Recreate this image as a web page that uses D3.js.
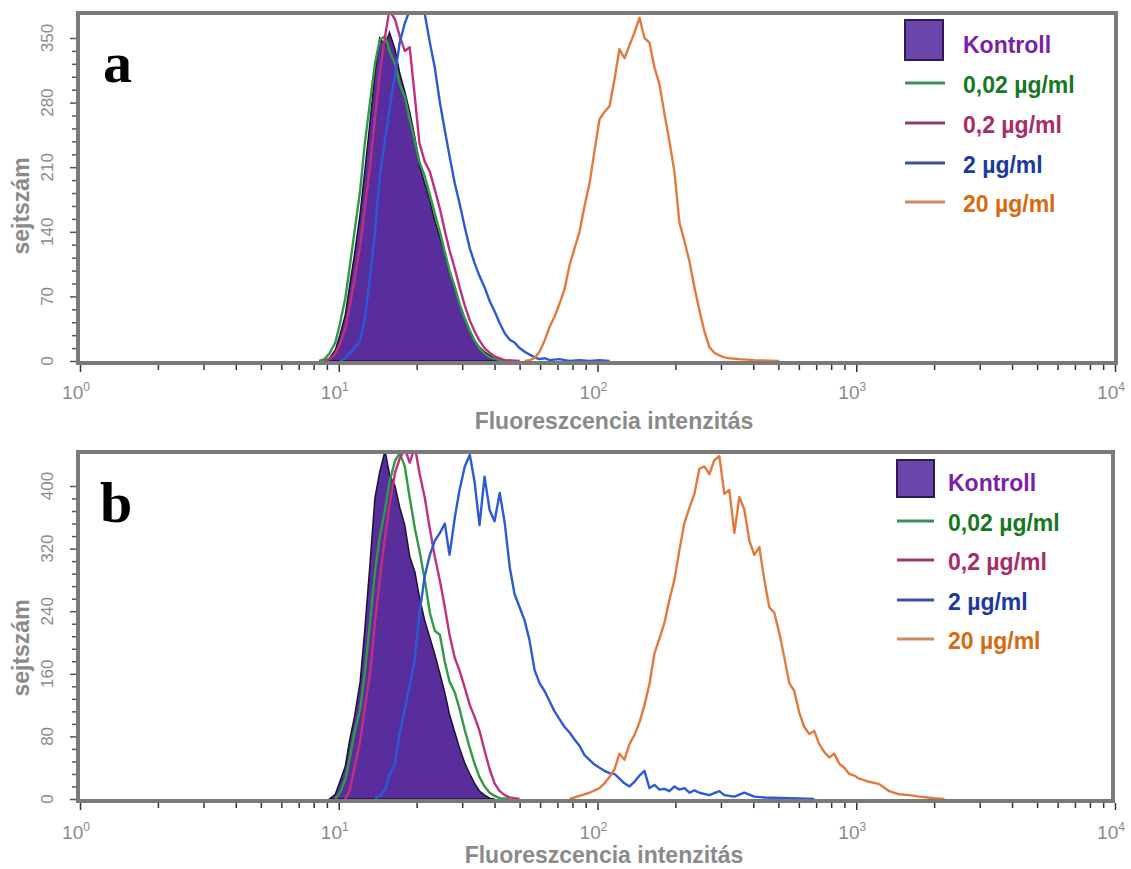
<!DOCTYPE html>
<html>
<head>
<meta charset="utf-8">
<script src="https://cdn.jsdelivr.net/npm/d3@7"></script>
<style>
  body { margin: 0; background: #fff; }
  svg { display: block; }
</style>
</head>
<body>
<svg id="chart" width="1131" height="869"></svg>
<script>
// series labels and colours
const seriesNames = ["Kontroll", "0,02 µg/ml", "0,2 µg/ml", "2 µg/ml", "20 µg/ml"];
const lineColors = ["#5a2d9d", "#2f9c45", "#c0307e", "#2b5ad6", "#e37a3c"];
const legendTextColors = ["#7b1ea8", "#16781f", "#a62d68", "#1b39a0", "#d8690f"];
const legendLineColors = ["#5a2d9d", "#3e8e5c", "#983a70", "#3a4fa8", "#cc8a62"];

const decades = [1, 10, 100, 1000, 10000];
const yTicksA = [0, 70, 140, 210, 280, 350];
const yTicksB = [0, 80, 160, 240, 320, 400];

// panel a : [fluorescence intensity, cell count]
const kontrollA = [[8.8,0],[9.2,3],[9.7,12],[10.1,28],[10.6,50],[11.0,80],[11.5,115],[12.1,160],[12.6,205],[13.2,258],[13.8,312],[14.4,350],[15.1,342],[15.7,356],[16.5,338],[17.2,312],[18.0,292],[18.8,270],[19.7,242],[20.5,212],[21.5,192],[22.5,174],[23.5,152],[24.6,134],[25.7,116],[26.8,96],[28.1,79],[29.3,62],[30.7,46],[32.1,33],[33.5,22],[35.0,15],[36.6,10],[38.3,6],[40.0,3],[41.9,1],[45.8,0]];
const conc002A = [[8.4,0],[8.8,2],[9.2,8],[9.7,20],[10.1,40],[10.6,68],[11.0,100],[11.5,140],[12.1,185],[12.6,235],[13.2,280],[13.8,322],[14.4,348],[15.1,352],[15.7,336],[16.5,322],[17.2,300],[18.0,286],[18.8,262],[19.7,238],[20.5,216],[21.5,200],[22.5,180],[23.5,160],[24.6,140],[25.7,118],[26.8,98],[28.1,80],[29.3,62],[30.7,46],[32.1,33],[33.5,22],[35.0,14],[36.6,8],[38.3,4],[41.9,1],[45.8,0]];
const conc02A = [[8.8,0],[9.2,2],[9.7,8],[10.1,18],[10.6,35],[11.0,58],[11.5,88],[12.1,125],[12.6,165],[13.2,210],[13.8,262],[14.4,312],[15.1,352],[15.7,380],[16.5,370],[17.2,352],[18.0,336],[18.8,340],[19.7,285],[20.5,236],[21.5,216],[22.5,205],[23.5,186],[24.6,165],[25.7,141],[26.8,120],[28.1,100],[29.3,80],[30.7,60],[32.1,44],[33.5,32],[35.0,22],[36.6,14],[38.3,9],[40.0,5],[43.8,1],[50.0,0]];
const conc2A = [[10.1,0],[10.6,3],[11.0,8],[11.5,14],[12.1,22],[12.6,45],[13.2,90],[13.8,140],[14.4,200],[15.1,240],[15.7,272],[16.5,310],[17.2,345],[18.0,366],[18.8,380],[19.7,378],[20.5,382],[21.5,376],[22.5,345],[23.5,318],[24.6,280],[25.7,250],[26.8,222],[28.1,192],[29.3,171],[30.7,145],[32.1,122],[33.5,106],[35.0,92],[36.6,80],[38.3,65],[40.0,54],[41.9,41],[43.8,30],[45.8,23],[47.8,20],[50.0,14],[52.3,10],[54.6,7],[57.1,4],[59.7,2],[62.4,3],[65.3,1],[71.3,2],[78.0,0],[85.2,1],[93.1,0],[101.8,1],[111.3,0]];
const conc20A = [[52.3,0],[54.6,1],[57.1,3],[59.7,10],[62.4,22],[65.3,37],[68.2,48],[71.3,62],[74.6,78],[78.0,104],[81.5,122],[85.2,140],[89.1,168],[93.1,192],[97.4,228],[101.8,262],[106.4,270],[111.3,276],[116.3,305],[121.6,338],[127.1,328],[132.9,342],[139.0,356],[145.3,372],[151.9,350],[158.8,345],[166.0,318],[173.5,300],[181.4,268],[189.7,238],[198.3,205],[207.3,150],[216.7,130],[226.6,108],[236.9,80],[247.6,55],[258.9,32],[270.6,15],[282.9,9],[295.8,6],[309.2,4],[323.3,3],[353.3,2],[403.7,1],[504.2,0]];

// panel b
const kontrollB = [[9.2,0],[9.7,6],[10.1,22],[10.6,42],[11.0,74],[11.5,105],[12.1,150],[12.6,215],[13.2,300],[13.8,385],[14.4,418],[15.1,445],[15.7,415],[16.5,400],[17.2,373],[18.0,350],[18.8,310],[19.7,290],[20.5,258],[21.5,228],[22.5,206],[23.5,185],[24.6,160],[25.7,136],[26.8,108],[28.1,85],[29.3,65],[30.7,46],[32.1,32],[33.5,20],[35.0,10],[36.6,5],[38.3,1],[40.0,0]];
const conc002B = [[9.7,0],[10.1,8],[10.6,25],[11.0,50],[11.5,85],[12.1,115],[12.6,160],[13.2,225],[13.8,290],[14.4,335],[15.1,370],[15.7,405],[16.5,432],[17.2,442],[18.0,425],[18.8,385],[19.7,345],[20.5,318],[21.5,280],[22.5,238],[23.5,215],[24.6,210],[25.7,175],[26.8,150],[28.1,136],[29.3,115],[30.7,88],[32.1,65],[33.5,45],[35.0,28],[36.6,16],[38.3,8],[40.0,4],[41.9,1],[45.8,0]];
const conc02B = [[10.6,0],[11.0,10],[11.5,40],[12.1,74],[12.6,115],[13.2,160],[13.8,225],[14.4,280],[15.1,335],[15.7,375],[16.5,417],[17.2,435],[18.0,448],[18.8,430],[19.7,450],[20.5,417],[21.5,385],[22.5,345],[23.5,310],[24.6,279],[25.7,245],[26.8,210],[28.1,180],[29.3,164],[30.7,142],[32.1,120],[33.5,105],[35.0,87],[36.6,62],[38.3,38],[40.0,20],[41.9,10],[43.8,5],[45.8,2],[50.0,0]];
const conc2B = [[13.8,0],[14.4,4],[15.1,12],[15.7,30],[16.5,45],[17.2,85],[18.0,115],[18.8,145],[19.7,180],[20.5,237],[21.5,285],[22.5,312],[23.5,330],[24.6,340],[25.7,352],[26.8,312],[28.1,360],[29.3,395],[30.7,425],[32.1,440],[33.5,405],[35.0,350],[36.6,412],[38.3,369],[40.0,355],[41.9,391],[43.8,353],[45.8,296],[47.8,262],[50.0,245],[52.3,228],[54.6,203],[57.1,165],[59.7,148],[62.4,138],[65.3,125],[68.2,112],[71.3,102],[74.6,92],[78.0,85],[81.5,76],[85.2,68],[89.1,56],[93.1,50],[97.4,44],[101.8,40],[106.4,36],[111.3,33],[116.3,32],[121.6,26],[127.1,20],[132.9,16],[139.0,22],[145.3,30],[151.9,36],[158.8,14],[166.0,18],[173.5,12],[181.4,13],[189.7,10],[198.3,16],[207.3,12],[216.7,14],[226.6,8],[236.9,11],[247.6,8],[270.6,5],[295.8,10],[309.2,5],[338.0,3],[369.4,8],[403.7,3],[441.3,2],[551.1,1],[688.3,0]];
const conc20B = [[78.0,0],[85.2,4],[93.1,8],[101.8,14],[106.4,20],[111.3,28],[116.3,38],[121.6,58],[127.1,50],[132.9,70],[139.0,82],[145.3,98],[151.9,120],[158.8,147],[166.0,186],[173.5,205],[181.4,225],[189.7,255],[198.3,280],[207.3,318],[216.7,353],[226.6,372],[236.9,390],[247.6,422],[258.9,425],[270.6,415],[282.9,433],[295.8,438],[309.2,390],[323.3,395],[338.0,340],[353.3,386],[369.4,370],[386.2,330],[403.7,312],[422.1,322],[441.3,280],[461.3,245],[482.3,238],[504.2,212],[527.2,181],[551.1,148],[576.2,138],[602.4,110],[629.8,92],[658.4,83],[688.3,87],[719.6,70],[752.3,60],[786.6,53],[822.3,58],[859.9,45],[898.9,40],[939.7,32],[982.4,30],[1027,26],[1123,22],[1227,19],[1341,10],[1466,6],[1602,5],[1751,3],[2001,1],[2190,0]];

const svg = d3.select("#chart");
const grey = "#8a8a8a";
const frameColor = "#7a7a7a";
const sans = "Liberation Sans, Arial, sans-serif";

const panels = [
  {
    id: "a", letter: "a", series: [kontrollA, conc002A, conc02A, conc2A, conc20A],
    yTicks: yTicksA, yMinorStep: 14, yMax: 350,
    frameTop: 13, frameBottom: 363, frameRight: 1116, y0: 361, yTopPx: 38,
    xLabelY: 399, xTitleY: 429, xTitleX: 614, yTitleY: 206,
    letterX: 103, letterY: 82,
    legend: { x: 905, textX: 963, sqTop: 20, sqW: 38, sqH: 40, lineEnd: 945, baselines: [53, 93, 133, 173, 212] }
  },
  {
    id: "b", letter: "b", series: [kontrollB, conc002B, conc02B, conc2B, conc20B],
    yTicks: yTicksB, yMinorStep: 16, yMax: 400,
    frameTop: 452, frameBottom: 801, frameRight: 1113, y0: 799, yTopPx: 486,
    xLabelY: 839, xTitleY: 863, xTitleX: 604, yTitleY: 648,
    letterX: 100, letterY: 522,
    legend: { x: 897, textX: 948, sqTop: 460, sqW: 37, sqH: 37, lineEnd: 934, baselines: [491, 531, 570, 610, 649] }
  }
];

panels.forEach(p => {
  const g = svg.append("g");
  const x = d3.scaleLog().domain([1, 10000]).range([80, 1115]);
  const y = d3.scaleLinear().domain([0, p.yMax]).range([p.y0, p.yTopPx]);

  const clipId = "clip-" + p.id;
  svg.append("clipPath").attr("id", clipId)
    .append("rect")
    .attr("x", 80).attr("y", p.frameTop)
    .attr("width", p.frameRight - 80).attr("height", p.frameBottom - p.frameTop);

  // x axis ticks (log), major ones a bit longer
  const gx = g.append("g").attr("transform", `translate(0,${p.frameBottom + 2})`)
    .call(d3.axisBottom(x).tickValues(x.ticks()).tickSize(5).tickFormat(""));
  gx.select(".domain").remove();
  gx.selectAll(".tick line")
    .attr("stroke", "#333")
    .attr("stroke-width", 1.5)
    .attr("y2", d => decades.includes(d) ? 7 : 5);

  // decade labels 10^n
  decades.forEach((d, i) => {
    const t = g.append("text")
      .attr("x", x(d) - 4).attr("y", p.xLabelY)
      .attr("text-anchor", "middle")
      .attr("fill", grey)
      .style("font-family", sans)
      .style("font-size", "19px");
    t.append("tspan").text("10");
    t.append("tspan").attr("dy", -8).style("font-size", "12px").text(i);
  });

  // y axis ticks
  const gy = g.append("g").attr("transform", `translate(${78 - 2},0)`)
    .call(d3.axisLeft(y).tickValues(d3.range(0, p.yMax + 1, p.yMinorStep)).tickSize(4).tickFormat(""));
  gy.select(".domain").remove();
  gy.selectAll(".tick line")
    .attr("stroke", "#555")
    .attr("stroke-width", 1.5)
    .attr("x2", d => p.yTicks.includes(d) ? -6 : -4);

  p.yTicks.forEach(v => {
    g.append("text")
      .attr("transform", `translate(47,${y(v)}) rotate(-90)`)
      .attr("text-anchor", "middle")
      .attr("dy", "0.35em")
      .attr("fill", grey)
      .style("font-family", sans)
      .style("font-size", "17px")
      .text(v);
  });

  // axis titles
  g.append("text")
    .attr("transform", `translate(21,${p.yTitleY}) rotate(-90)`)
    .attr("text-anchor", "middle")
    .attr("dy", "0.35em")
    .attr("fill", grey)
    .style("font-family", sans)
    .style("font-weight", "bold")
    .style("font-size", "23px")
    .text("sejtszám");

  g.append("text")
    .attr("x", p.xTitleX).attr("y", p.xTitleY)
    .attr("text-anchor", "middle")
    .attr("fill", grey)
    .style("font-family", sans)
    .style("font-weight", "bold")
    .style("font-size", "23px")
    .text("Fluoreszcencia intenzitás");

  // histograms
  const plot = g.append("g").attr("clip-path", `url(#${clipId})`);
  const area = d3.area().x(d => x(d[0])).y0(y(0)).y1(d => y(d[1]));
  const line = d3.line().x(d => x(d[0])).y(d => y(d[1]));

  plot.append("path")
    .datum(p.series[0])
    .attr("d", area)
    .attr("fill", lineColors[0])
    .attr("stroke", "#1c1230")
    .attr("stroke-width", 1.5);

  p.series.slice(1).forEach((s, i) => {
    plot.append("path")
      .datum(s)
      .attr("d", line)
      .attr("fill", "none")
      .attr("stroke", lineColors[i + 1])
      .attr("stroke-width", 2.4)
      .attr("stroke-linejoin", "round");
  });

  // frame
  g.append("rect")
    .attr("x", 78).attr("y", p.frameTop)
    .attr("width", p.frameRight - 78).attr("height", p.frameBottom - p.frameTop)
    .attr("fill", "none")
    .attr("stroke", frameColor)
    .attr("stroke-width", 4);

  // panel letter
  g.append("text")
    .attr("x", p.letterX).attr("y", p.letterY)
    .attr("fill", "#000")
    .style("font-family", "Liberation Serif, Times New Roman, serif")
    .style("font-weight", "bold")
    .style("font-size", "58px")
    .text(p.letter);

  // legend
  const L = p.legend;
  g.append("rect")
    .attr("x", L.x).attr("y", L.sqTop)
    .attr("width", L.sqW).attr("height", L.sqH)
    .attr("fill", "#6a45aa")
    .attr("stroke", "#2a1a50")
    .attr("stroke-width", 2);

  seriesNames.forEach((name, i) => {
    if (i > 0) {
      g.append("line")
        .attr("x1", L.x).attr("x2", L.lineEnd)
        .attr("y1", L.baselines[i] - 10).attr("y2", L.baselines[i] - 10)
        .attr("stroke", legendLineColors[i])
        .attr("stroke-width", 3);
    }
    g.append("text")
      .attr("x", L.textX).attr("y", L.baselines[i])
      .attr("fill", legendTextColors[i])
      .style("font-family", sans)
      .style("font-weight", "bold")
      .style("font-size", "23px")
      .text(name);
  });
});
</script>
</body>
</html>
